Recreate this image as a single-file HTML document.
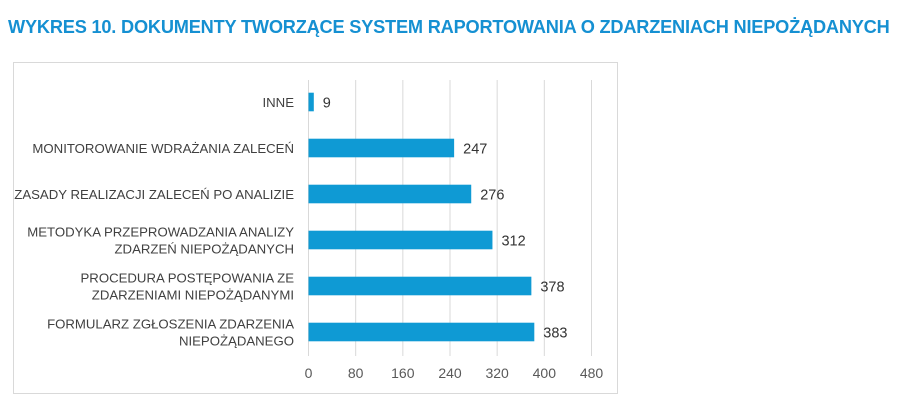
<!DOCTYPE html>
<html><head><meta charset="utf-8"><style>
body{margin:0;background:#fff;width:900px;height:406px;overflow:hidden;font-family:"Liberation Sans",sans-serif}
#title{position:absolute;left:8px;top:17px;font-size:18.2px;font-weight:bold;color:#1590d2;white-space:nowrap;letter-spacing:-0.2px}
#box{position:absolute;left:13px;top:62px;width:605px;height:332px;border:1px solid #d9d9d9;box-sizing:border-box}
svg{position:absolute;left:0;top:0}
</style></head><body>
<div id="title">WYKRES 10. DOKUMENTY TWORZĄCE SYSTEM RAPORTOWANIA O ZDARZENIACH NIEPOŻĄDANYCH</div>
<div id="box"></div>
<svg id="chart" width="900" height="406"></svg>
<script>
const categories=[["INNE"],["MONITOROWANIE WDRAŻANIA ZALECEŃ"],["ZASADY REALIZACJI ZALECEŃ PO ANALIZIE"],["METODYKA PRZEPROWADZANIA ANALIZY","ZDARZEŃ NIEPOŻĄDANYCH"],["PROCEDURA POSTĘPOWANIA ZE","ZDARZENIAMI NIEPOŻĄDANYMI"],["FORMULARZ ZGŁOSZENIA ZDARZENIA","NIEPOŻĄDANEGO"]];
const values=[9,247,276,312,378,383];
const ticks=[0,80,160,240,320,400,480];
const NS="http://www.w3.org/2000/svg";
const svg=document.getElementById('chart');
const x0=308.5,xMax=591.5,vMax=480,yTop=80,yBot=356;
const xs=v=>x0+(v/vMax)*(xMax-x0);
const band=(yBot-yTop)/categories.length;
const yc=i=>yTop+band*(i+0.5)-1;
function mk(t,a){const e=document.createElementNS(NS,t);for(const k in a)e.setAttribute(k,a[k]);svg.appendChild(e);return e;}
ticks.forEach((t,i)=>{
 const g=mk('line',{x1:xs(t),x2:xs(t),y1:yTop,y2:yBot,stroke:'#d9d9d9','stroke-width':1});
 
 
 const l=mk('text',{x:xs(t),y:378,'text-anchor':'middle','font-size':14,fill:'#595959'});
 l.textContent=t;
 
 
});
categories.forEach((c,i)=>{
 const y=yc(i);
 const b=mk('rect',{x:x0,y:y-9.3,width:xs(values[i])-x0,height:18.6,fill:'#0f9ad4'});
 
 
 const v=mk('text',{x:xs(values[i])+9,y:y+5.5,'font-size':14.5,fill:'#333'});
 v.textContent=values[i];
 
 
 c.forEach((line,j)=>{
  const t=mk('text',{x:294,y:y+5+(j-(c.length-1)/2)*17,'text-anchor':'end','font-size':13.2,fill:'#404040'});
  t.textContent=line;
  
  
 });
});
</script>
</body></html>
